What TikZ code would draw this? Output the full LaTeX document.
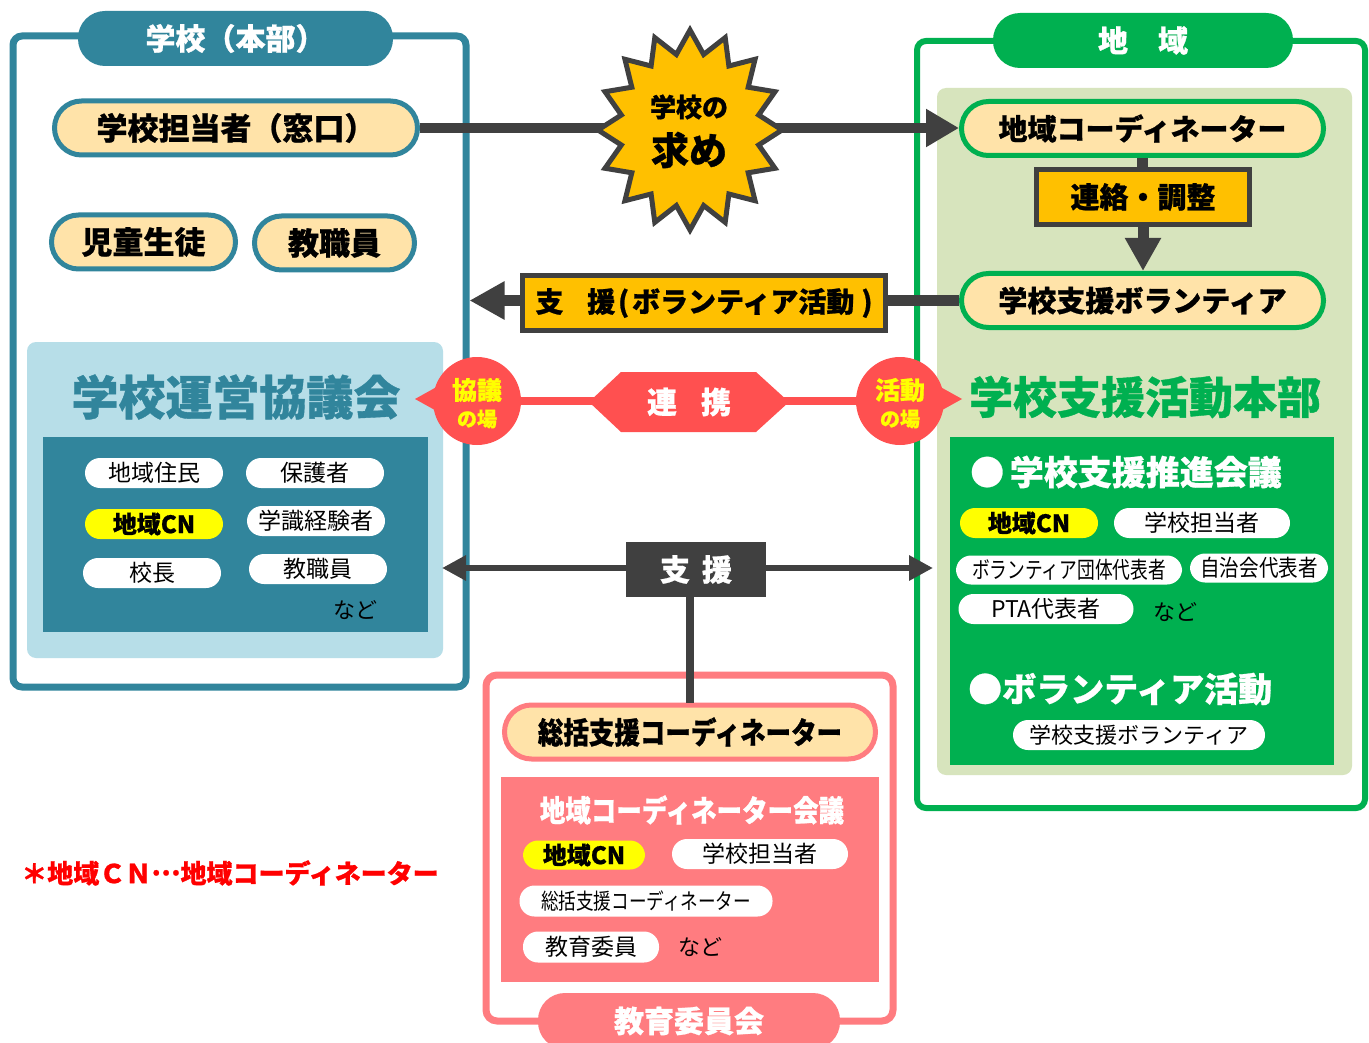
\documentclass[tikz,border=0pt]{standalone}
\usepackage{fontspec}
\setmainfont{Noto Sans CJK JP}[BoldFeatures={FakeBold=0.8}]
\usepackage{graphicx}
\usetikzlibrary{arrows.meta}
\newcommand\jfs[1]{\fontsize{#1}{#1}\selectfont}
\definecolor{teal5}{HTML}{31859C}
\definecolor{ltblue}{HTML}{B7DEE8}
\definecolor{peach}{HTML}{FFE3A9}
\definecolor{grn}{HTML}{00B050}
\definecolor{ltgrn}{HTML}{D7E4BD}
\definecolor{dgray}{HTML}{404040}
\definecolor{gold}{HTML}{FFC000}
\definecolor{pinkc}{HTML}{FF7C80}
\definecolor{redc}{HTML}{FF5050}
\definecolor{yel}{HTML}{FFFF00}
\tikzset{
  bigpill/.style={draw, line width=5pt, fill=peach, rectangle, rounded corners=27pt,
    minimum height=54pt, inner sep=0pt, font=\jfs{31}\bfseries},
  smallpill/.style={fill=white, rectangle, rounded corners=15pt, minimum height=30pt,
    inner sep=0pt, font=\jfs{23}},
  cnpill/.style={smallpill, fill=yel, font=\jfs{24}\bfseries},
  header/.style={rectangle, rounded corners=27pt, minimum height=55pt, inner sep=0pt,
    text=white, font=\jfs{30}\bfseries},
  goldbox/.style={draw=dgray, line width=5pt, fill=gold, minimum height=55pt, inner sep=0pt},
  bubble/.style={circle, fill=redc, minimum size=88pt, inner sep=0pt},
  ytext/.style={text=yel, inner sep=0pt},
  darrow/.style={dgray, line width=#1},
}
\begin{document}
\begin{tikzpicture}[x=1pt,y=-1pt]
\useasboundingbox (0,0) rectangle (1369,1043);
\fill[white] (0,0) rectangle (1369,1043);

% ---------------- School (left) ----------------
\node[draw=teal5, line width=7pt, rounded corners=9pt, minimum width=453pt, minimum height=651pt, inner sep=0pt] (school) at (239.5,361.5) {};
\node[header, fill=teal5, minimum width=315pt] (schoolH) at (235.5,38.5) {学校（本部）};
\node[bigpill, draw=teal5, minimum width=363pt] (tanto) at (236,128) {学校担当者（窓口）};
\node[bigpill, draw=teal5, minimum width=184pt] (jido) at (143.5,242) {児童生徒};
\node[bigpill, draw=teal5, minimum width=160pt] (kyoshoku) at (334.5,243) {教職員};

\fill[ltblue, rounded corners=9pt] (27,342) rectangle (443,658);
\node[text=teal5, font=\jfs{47}\bfseries] (unei) at (236,397) {学校運営協議会};
\fill[teal5] (43,437) rectangle (428,632);
\node[smallpill, minimum width=138pt] (u1) at (154,473) {地域住民};
\node[smallpill, minimum width=138pt] (u2) at (315,473) {保護者};
\node[cnpill, minimum width=138pt] (u3) at (154,524) {地域CN};
\node[smallpill, minimum width=138pt] (u4) at (316,521) {学識経験者};
\node[smallpill, minimum width=138pt] (u5) at (152,573) {校長};
\node[smallpill, minimum width=138pt] (u6) at (318,569) {教職員};
\node[font=\jfs{22}] (unado) at (355,610) {など};

% ---------------- Region (right) ----------------
\node[draw=grn, line width=6pt, rounded corners=9pt, minimum width=448pt, minimum height=767pt, inner sep=0pt] (region) at (1141,424.5) {};
\node[header, fill=grn, minimum width=300pt] (regionH) at (1143,40.5) {地\hspace{1em}域};
\fill[ltgrn, rounded corners=9pt] (937,88) rectangle (1352,775);
\node[bigpill, draw=grn, minimum width=362pt, font=\jfs{29}\bfseries] (cn) at (1142.5,128.5) {地域コーディネーター};
\node[goldbox, minimum width=213pt, font=\jfs{29}\bfseries] (renraku) at (1143,197) {連絡・調整};
\node[bigpill, draw=grn, minimum width=362pt, font=\jfs{29}\bfseries] (vol) at (1142.5,300.5) {学校支援ボランティア};
\draw[darrow=11pt] (cn.south) -- (cn.south |- renraku.north);
\draw[darrow=11pt, -{Triangle[length=33pt,width=34pt]}] (renraku.south) -- (renraku.south |- vol.north);

\node[text=grn, font=\jfs{44}\bfseries] (honbu) at (1145,397) {学校支援活動本部};
\fill[grn] (950,437) rectangle (1334,765);
\node[anchor=west, text=white, font=\jfs{34}\bfseries, inner sep=0pt] (suishin) at (970,472) {●\,学校支援推進会議};
\node[cnpill, minimum width=138pt] (g1) at (1029,523) {地域CN};
\node[smallpill, minimum width=176pt] (g2) at (1202,523) {学校担当者};
\node[smallpill, minimum width=226pt, minimum height=29pt] (g3) at (1069,570) {\scalebox{0.77}[1]{ボランティア団体代表者}};
\node[smallpill, minimum width=138pt, minimum height=29pt] (g4) at (1259,568) {\scalebox{0.85}[1]{自治会代表者}};
\node[smallpill, minimum width=175pt] (g5) at (1046,609) {PTA代表者};
\node[font=\jfs{22}] (gnado) at (1175,612) {など};
\node[anchor=west, text=white, font=\jfs{34}\bfseries, inner sep=0pt] (vact) at (968,689) {●ボランティア活動};
\node[smallpill, minimum width=252pt, font=\jfs{22}] (g6) at (1139,735) {学校支援ボランティア};

% ---------------- Board of education (bottom) ----------------
\node[draw=pinkc, line width=7pt, rounded corners=11pt, minimum width=407pt, minimum height=346pt, inner sep=0pt] (iinkai) at (689.5,848) {};
\node[header, fill=pinkc, minimum width=302pt, minimum height=56pt] (iinkaiH) at (689,1021) {教育委員会};
\node[bigpill, draw=pinkc, minimum width=371pt, font=\jfs{30}\bfseries] (soukatsu) at (690,732) {\scalebox{0.85}[1]{総括支援コーディネーター}};
\fill[pinkc] (501,777) rectangle (879,982);
\node[text=white, font=\jfs{30}\bfseries] (cnkaigi) at (692,810) {\scalebox{0.85}[1]{地域コーディネーター会議}};
\node[cnpill, minimum width=122pt, minimum height=29pt] (p1) at (584,855) {地域CN};
\node[smallpill, minimum width=176pt] (p2) at (760,854) {学校担当者};
\node[smallpill, minimum width=253pt, minimum height=31pt, font=\jfs{22}] (p3) at (646,901) {\scalebox{0.8}[1]{総括支援コーディネーター}};
\node[smallpill, minimum width=136pt, minimum height=31pt] (p4) at (591,947) {教育委員};
\node[font=\jfs{22}] (pnado) at (700,947) {など};

% ---------------- Connectors ----------------
\draw[darrow=10pt, -{Triangle[length=33pt,width=36pt]}] (tanto.east) -- (tanto.east -| cn.west);
\path[fill=gold, draw=dgray, line width=5pt, line join=miter]
  (690,30) \foreach \i in {1,...,31}{ -- ({690+(mod(\i,2)==0?92:70)*sin(\i*11.25)},{130-(mod(\i,2)==0?100:77)*cos(\i*11.25)}) } -- cycle;
\node[font=\jfs{26}\bfseries, inner sep=0pt] (motome1) at (689,107) {学校の};
\node[font=\jfs{38}\bfseries, inner sep=0pt] (motome2) at (689,150) {求め};

\draw[darrow=11pt, -{Triangle[length=35pt,width=36pt]}] (vol.west) -- (vol.west -| school.east);
\node[goldbox, minimum width=363pt, font=\jfs{28}\bfseries] (shienV) at (704,303) {支\hspace{0.85em}援\hspace{0.1em}(\hspace{0.1em}ボランティア活動\hspace{0.25em})};

% renkei row
\node[bubble] (kyogi) at (477,401) {};
\fill[redc] (415,399) -- (442,384) -- (442,414) -- cycle;
\node[bubble] (katsudo) at (900,401) {};
\fill[redc] (962,399) -- (935,384) -- (935,414) -- cycle;
\draw[redc, line width=8pt] (kyogi.east) -- (katsudo.west);
\fill[redc] (589,402) -- (621,372) -- (756,372) -- (789,402) -- (756,432) -- (621,432) -- cycle;
\node[text=white, font=\jfs{30}\bfseries] (renkei) at (689,402) {連\hspace{0.8em}携};
\node[ytext, font=\jfs{25}\bfseries] (kyogiA) at (477,390) {協議};
\node[ytext, font=\jfs{20}\bfseries] (kyogiB) at (477,419) {の場};
\node[ytext, font=\jfs{25}\bfseries] (katsuA) at (900,390) {活動};
\node[ytext, font=\jfs{20}\bfseries] (katsuB) at (900,419) {の場};

% shien double arrow
\coordinate (sL) at (442,568);
\coordinate (sR) at (933,568);
\draw[darrow=6pt, {Triangle[length=24pt,width=24pt]}-{Triangle[length=24pt,width=24pt]}] (sL) -- (sR);
\node[fill=dgray, minimum width=140pt, minimum height=55pt, inner sep=0pt, text=white, font=\jfs{30}\bfseries] (shien) at (696,569.5) {支\hspace{0.4em}援};
\draw[darrow=8pt] (soukatsu.north) -- (soukatsu.north |- shien.south);

% footnote
\node[text=red, font=\jfs{26}\bfseries] (note) at (230,873) {＊地域ＣＮ\raisebox{0.3em}{…}地域コーディネーター};
\end{tikzpicture}
\end{document}
